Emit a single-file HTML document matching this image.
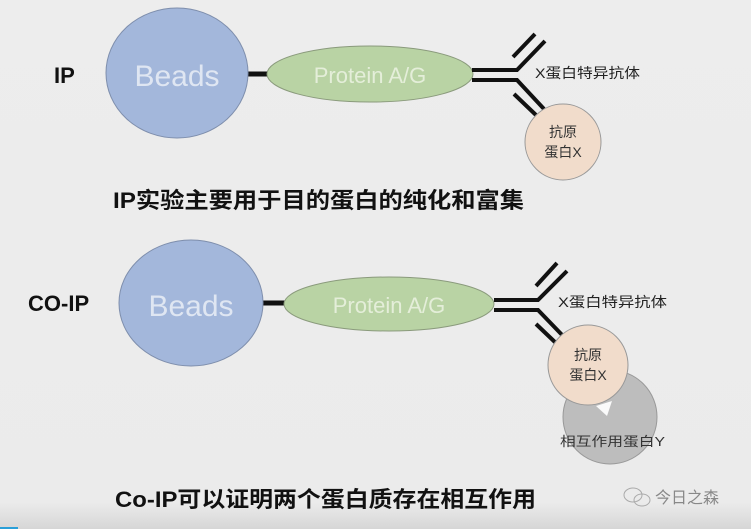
<!DOCTYPE html>
<html><head><meta charset="utf-8"><style>
html,body{margin:0;padding:0;background:#ececec;}
svg{display:block}
</style></head><body>
<svg width="751" height="529" xmlns="http://www.w3.org/2000/svg" font-family="'Liberation Sans','Noto Sans CJK SC',sans-serif">
<defs><linearGradient id="bg" x1="0" y1="0" x2="0" y2="1"><stop offset="0" stop-color="#ededed"/><stop offset="0.95" stop-color="#ebebeb"/><stop offset="1" stop-color="#d6d6d6"/></linearGradient></defs>
<rect width="751" height="529" fill="url(#bg)"/>
<rect x="0" y="527" width="18" height="2" fill="#2a9fd8"/>

<!-- IP -->
<text x="54" y="83" font-size="22" font-weight="bold" fill="#111">IP</text>
<line x1="246" y1="74" x2="270" y2="74" stroke="#111" stroke-width="5"/>
<ellipse cx="177" cy="73" rx="71" ry="65" fill="#a3b7db" stroke="#7e8eac" stroke-width="1"/>
<text x="177" y="86" font-size="30" fill="#dfe6f2" text-anchor="middle">Beads</text>
<ellipse cx="370" cy="74" rx="103" ry="28" fill="#b9d3a4" stroke="#8a9a7c" stroke-width="1"/>
<text x="370" y="83" font-size="22" fill="#e4eed9" text-anchor="middle">Protein A/G</text>
<g stroke="#111" stroke-width="4" fill="none">
<polyline points="472,70 517,70 545,41"/>
<polyline points="472,80 517,80 544,109"/>
<line x1="513" y1="57" x2="535" y2="34"/>
<line x1="514" y1="94" x2="537" y2="116"/>
</g>
<text x="535" y="78" font-size="14" fill="#222" textLength="105" lengthAdjust="spacingAndGlyphs">X蛋白特异抗体</text>
<circle cx="563" cy="142" r="38" fill="#f1dccb" stroke="#999" stroke-width="1"/>
<text x="563" y="137" font-size="14" fill="#333" text-anchor="middle">抗原</text>
<text x="563" y="157" font-size="14" fill="#333" text-anchor="middle">蛋白X</text>
<text x="113" y="208" font-size="22" font-weight="bold" fill="#111" textLength="411" lengthAdjust="spacingAndGlyphs">IP实验主要用于目的蛋白的纯化和富集</text>

<!-- CO-IP -->
<text x="28" y="311" font-size="22" font-weight="bold" fill="#111">CO-IP</text>
<line x1="262" y1="303" x2="286" y2="303" stroke="#111" stroke-width="5"/>
<ellipse cx="191" cy="303" rx="72" ry="63" fill="#a3b7db" stroke="#7e8eac" stroke-width="1"/>
<text x="191" y="316" font-size="30" fill="#dfe6f2" text-anchor="middle">Beads</text>
<ellipse cx="389" cy="304" rx="105" ry="27" fill="#b9d3a4" stroke="#8a9a7c" stroke-width="1"/>
<text x="389" y="313" font-size="22" fill="#e4eed9" text-anchor="middle">Protein A/G</text>
<g stroke="#111" stroke-width="4" fill="none">
<polyline points="494,300 538,300 567,271"/>
<polyline points="494,310 538,310 566,339"/>
<line x1="536" y1="286" x2="557" y2="263"/>
<line x1="536" y1="324" x2="558" y2="345"/>
</g>
<text x="558" y="307" font-size="14" fill="#222" textLength="109" lengthAdjust="spacingAndGlyphs">X蛋白特异抗体</text>
<circle cx="610" cy="417" r="47" fill="#bdbdbd" stroke="#999" stroke-width="1"/>
<circle cx="588" cy="365" r="40" fill="#f1dccb" stroke="#999" stroke-width="1"/>
<polygon points="596,406 612,401 607,416" fill="#fafafa"/>
<text x="588" y="360" font-size="14" fill="#333" text-anchor="middle">抗原</text>
<text x="588" y="380" font-size="14" fill="#333" text-anchor="middle">蛋白X</text>
<text x="560" y="446" font-size="13" fill="#333" textLength="105" lengthAdjust="spacingAndGlyphs">相互作用蛋白Y</text>
<text x="115" y="507" font-size="22" font-weight="bold" fill="#111" textLength="421" lengthAdjust="spacingAndGlyphs">Co-IP可以证明两个蛋白质存在相互作用</text>

<!-- watermark -->
<g stroke="#aaa" stroke-width="1" fill="none">
<ellipse cx="633" cy="495" rx="9" ry="7"/>
<ellipse cx="642" cy="500" rx="8" ry="6"/>
</g>
<text x="655" y="503" font-size="16" fill="#888">今日之森</text>
</svg>
</body></html>
